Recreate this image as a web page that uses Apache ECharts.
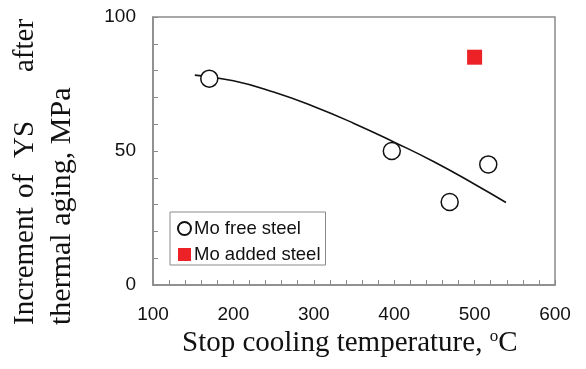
<!DOCTYPE html>
<html>
<head>
<meta charset="utf-8">
<script src="https://cdn.jsdelivr.net/npm/echarts@6/dist/echarts.min.js"></script>
<style>html,body{margin:0;padding:0;background:#fff;}#c{width:586px;height:369px;}</style>
</head>
<body>
<div id="c"></div>
<script>
// Data
const freeX = [170, 397, 469, 517];
const freeY = [77, 50, 31, 45];
const addedX = [500];
const addedY = [85];
const curveX = [152, 200, 250, 300, 350, 400, 450, 500, 539];
const curveY = [78.3, 76.2, 72.0, 66.6, 60.3, 53.3, 45.9, 37.6, 30.8];
const xTicks = [100, 200, 300, 400, 500, 600];
const yTicks = [0, 50, 100];
const seriesNames = ['Mo free steel', 'Mo added steel'];

const zip = (a, b) => a.map((v, i) => [v, b[i]]);
const serif = '"Liberation Serif", "Times New Roman", serif';
const sans = '"Liberation Sans", Arial, sans-serif';
const grey = '#8a8a8a';

const chart = echarts.init(document.getElementById('c'), null, {renderer: 'canvas'});
const titleStyle = (t, s) => ({text: t, font: (s || 29) + 'px ' + serif, fill: '#111', align: 'left', verticalAlign: 'middle', textAlign: 'left', textVerticalAlign: 'middle'});
chart.setOption({
  animation: false,
  backgroundColor: '#fff',
  grid: {left: 153, right: 31, top: 17, bottom: 84, show: true, borderColor: grey, borderWidth: 1.5, backgroundColor: 'transparent'},
  xAxis: {
    type: 'value', min: xTicks[0], max: xTicks[xTicks.length - 1], interval: 100,
    axisLine: {show: true, lineStyle: {color: grey, width: 1.5}},
    axisTick: {show: true, inside: true, length: 5, lineStyle: {color: grey}},
    minorTick: {show: true, splitNumber: 5, length: 5, lineStyle: {color: grey}},
    splitLine: {show: false},
    axisLabel: {color: '#111', fontFamily: sans, fontSize: 19, margin: 20}
  },
  yAxis: {
    type: 'value', min: yTicks[0], max: yTicks[yTicks.length - 1], interval: 50,
    axisLine: {show: true, lineStyle: {color: grey, width: 1.5}},
    axisTick: {show: true, inside: true, length: 5, lineStyle: {color: grey}},
    minorTick: {show: true, splitNumber: 5, length: 5, lineStyle: {color: grey}},
    splitLine: {show: false},
    axisLabel: {color: '#111', fontFamily: sans, fontSize: 19, margin: 17}
  },
  legend: {
    data: seriesNames,
    orient: 'vertical', left: 170, top: 212,
    padding: [7, 5, 1, 7], itemGap: 7, itemWidth: 13, itemHeight: 13,
    borderColor: grey, borderWidth: 1, borderRadius: 0,
    textStyle: {fontFamily: sans, fontSize: 18.5, color: '#111', padding: [0, 0, 0, -2]}
  },
  series: [
    {
      type: 'line', name: 'fit', data: zip(curveX, curveY), smooth: 0.5, showSymbol: false, symbol: 'none',
      lineStyle: {color: '#111', width: 1.6}, z: 1
    },
    {
      type: 'scatter', name: seriesNames[0], data: zip(freeX, freeY), symbol: 'circle', symbolSize: 17,
      itemStyle: {color: '#fff', borderColor: '#111', borderWidth: 1.5, opacity: 1}, z: 3
    },
    {
      type: 'scatter', name: seriesNames[1], data: zip(addedX, addedY), symbol: 'rect', symbolSize: 15,
      itemStyle: {color: '#ec2227', opacity: 1}, z: 3
    }
  ],
  graphic: [
    {type: 'text', x: 25, y: 325, rotation: Math.PI / 2, style: titleStyle('Increment')},
    {type: 'text', x: 25, y: 198, rotation: Math.PI / 2, style: titleStyle('of')},
    {type: 'text', x: 25, y: 158, rotation: Math.PI / 2, style: titleStyle('YS')},
    {type: 'text', x: 25, y: 72, rotation: Math.PI / 2, style: titleStyle('after')},
    {type: 'text', x: 62, y: 325, rotation: Math.PI / 2, style: titleStyle('thermal aging, MPa', 30)},
    {type: 'text', x: 182, y: 358, style: {
      text: '{a|Stop cooling temperature, }{s|o}{a|C}', fill: '#111', align: 'left', verticalAlign: 'bottom',
      rich: {
        a: {fontFamily: serif, fontSize: 29, fill: '#111', lineHeight: 30, verticalAlign: 'bottom'},
        s: {fontFamily: serif, fontSize: 17, fill: '#111', lineHeight: 30, verticalAlign: 'top'}
      }
    }}
  ]
});
</script>
</body>
</html>
